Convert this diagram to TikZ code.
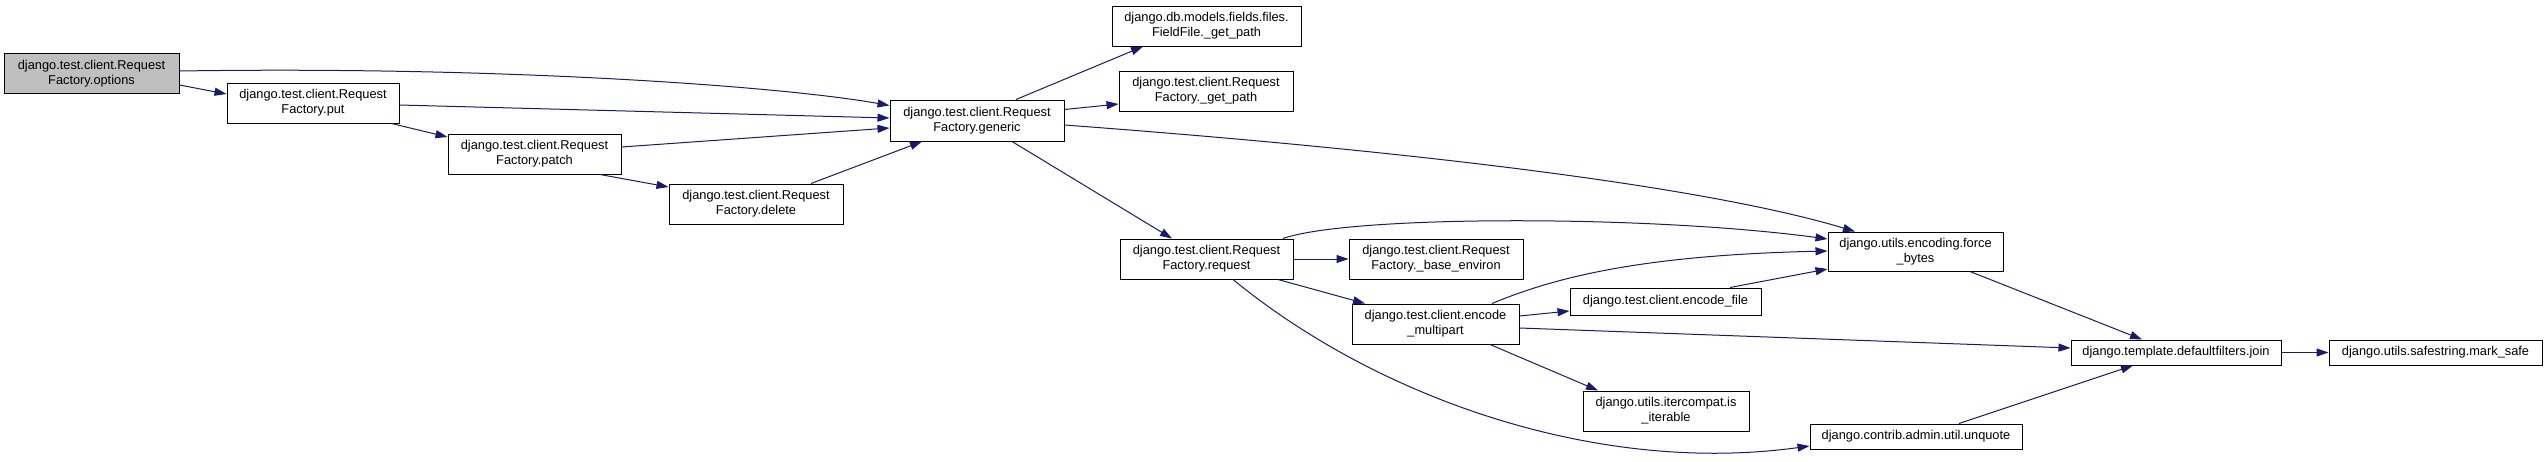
\documentclass[tikz,border=0pt]{standalone}
\usepackage{fontspec}
\setmainfont{Liberation Sans}
\usetikzlibrary{arrows.meta,calc}
\definecolor{edgeblue}{HTML}{191970}
\definecolor{rootgray}{HTML}{BFBFBF}
\tikzset{
  fn/.style={draw=black, line width=1pt, fill=white, inner sep=0pt, align=center,
    font=\fontsize{12.8}{15}\selectfont, minimum height=40pt},
  fn1/.style={fn, minimum height=26pt},
  root/.style={fill=rootgray},
  call/.style={draw=edgeblue, line width=1pt, -{Triangle[length=12pt,width=8pt]}},
}
\begin{document}
\begin{tikzpicture}[x=1pt,y=-1pt]
\useasboundingbox[fill=white] (0,0) rectangle (2547,461);

% nodes
\node[fn, root, minimum width=175pt] (options) at (91.5,73.5) {django.test.client.Request\\Factory.options};
\node[fn, minimum width=172pt] (put) at (313,103) {django.test.client.Request\\Factory.put};
\node[fn, minimum width=173pt] (patch) at (534.5,154) {django.test.client.Request\\Factory.patch};
\node[fn, minimum width=174pt] (delete) at (756,204) {django.test.client.Request\\Factory.delete};
\node[fn, minimum width=174pt, minimum height=41pt] (generic) at (977,120.5) {django.test.client.Request\\Factory.generic};
\node[fn, minimum width=189pt] (fieldfile) at (1206.5,26) {django.db.models.fields.files.\\FieldFile.\_get\_path};
\node[fn, minimum width=174pt] (getpath) at (1206,91) {django.test.client.Request\\Factory.\_get\_path};
\node[fn, minimum width=173pt] (request) at (1206.5,259) {django.test.client.Request\\Factory.request};
\node[fn, minimum width=174pt] (environ) at (1436,259) {django.test.client.Request\\Factory.\_base\_environ};
\node[fn, minimum width=167pt] (multipart) at (1435.5,324) {django.test.client.encode\\\_multipart};
\node[fn1, minimum width=191pt, minimum height=27pt] (encfile) at (1665.5,301.5) {django.test.client.encode\_file};
\node[fn, minimum width=166pt] (iterable) at (1666,411) {django.utils.itercompat.is\\\_iterable};
\node[fn1, minimum width=212pt, minimum height=25pt] (unquote) at (1916,436.5) {django.contrib.admin.util.unquote};
\node[fn, minimum width=175pt, minimum height=39pt] (forcebytes) at (1915.5,251.5) {django.utils.encoding.force\\\_bytes};
\node[fn1, minimum width=210pt, minimum height=25pt] (join) at (2176,352.5) {django.template.defaultfilters.join};
\node[fn1, minimum width=213pt, minimum height=25pt] (marksafe) at (2435.5,352.5) {django.utils.safestring.mark\_safe};

% edges
\draw[call] ($(options.east)+(0,-2.5)$) .. controls (500,66) and (780,86) .. ($(generic.west)+(0,-15)$);
\draw[call] ($(options.east)+(0,11.5)$) -- ($(put.west)+(0,-9)$);
\draw[call] ($(put.east)+(0,2)$) -- ($(generic.west)+(0,-2.5)$);
\draw[call] ($(put.south east)+(-8,0)$) -- ($(patch.west)+(0,-17)$);
\draw[call] ($(patch.east)+(0,-7)$) -- ($(generic.west)+(0,7.5)$);
\draw[call] ($(patch.south)+(65.5,0)$) -- ($(delete.west)+(0,-17)$);
\draw[call] ($(delete.north)+(55,0)$) -- ($(generic.south)+(-55,0)$);
\draw[call] ($(generic.north)+(39,0)$) -- ($(fieldfile.south)+(-63.5,0)$);
\draw[call] ($(generic.east)+(0,-11)$) -- ($(getpath.west)+(0,13)$);
\draw[call] ($(generic.south)+(35,0)$) -- ($(request.north)+(-34.5,0)$);
\draw[call] ($(generic.east)+(0,4.5)$) .. controls (1400,150) and (1700,185) .. ($(forcebytes.north)+(-60.5,0)$);
\draw[call] ($(request.north)+(76.5,0)$) .. controls (1350,215) and (1650,215) .. ($(forcebytes.west)+(0,-12.5)$);
\draw[call] (request.east) -- (environ.west);
\draw[call] ($(request.south)+(71.5,0)$) -- ($(multipart.north)+(-70.5,0)$);
\draw[call] ($(request.south)+(26.5,0)$) .. controls (1380,400) and (1600,475) .. ($(unquote.west)+(0,9.5)$);
\draw[call] ($(multipart.north)+(56.5,0)$) .. controls (1560,275) and (1650,255) .. ($(forcebytes.west)+(0,-0.5)$);
\draw[call] ($(multipart.east)+(0,-8)$) -- ($(encfile.west)+(0,9.5)$);
\draw[call] ($(multipart.east)+(0,4)$) -- ($(join.west)+(0,-4.5)$);
\draw[call] ($(multipart.south)+(54.5,0)$) -- ($(iterable.north)+(-68,0)$);
\draw[call] ($(encfile.north)+(64.5,0)$) -- ($(forcebytes.west)+(0,17.5)$);
\draw[call] ($(forcebytes.south)+(54.5,0)$) -- ($(join.north)+(-34,0)$);
\draw[call] ($(unquote.north)+(43,0)$) -- ($(join.south)+(-43,0)$);
\draw[call] (join.east) -- (marksafe.west);
\end{tikzpicture}
\end{document}
